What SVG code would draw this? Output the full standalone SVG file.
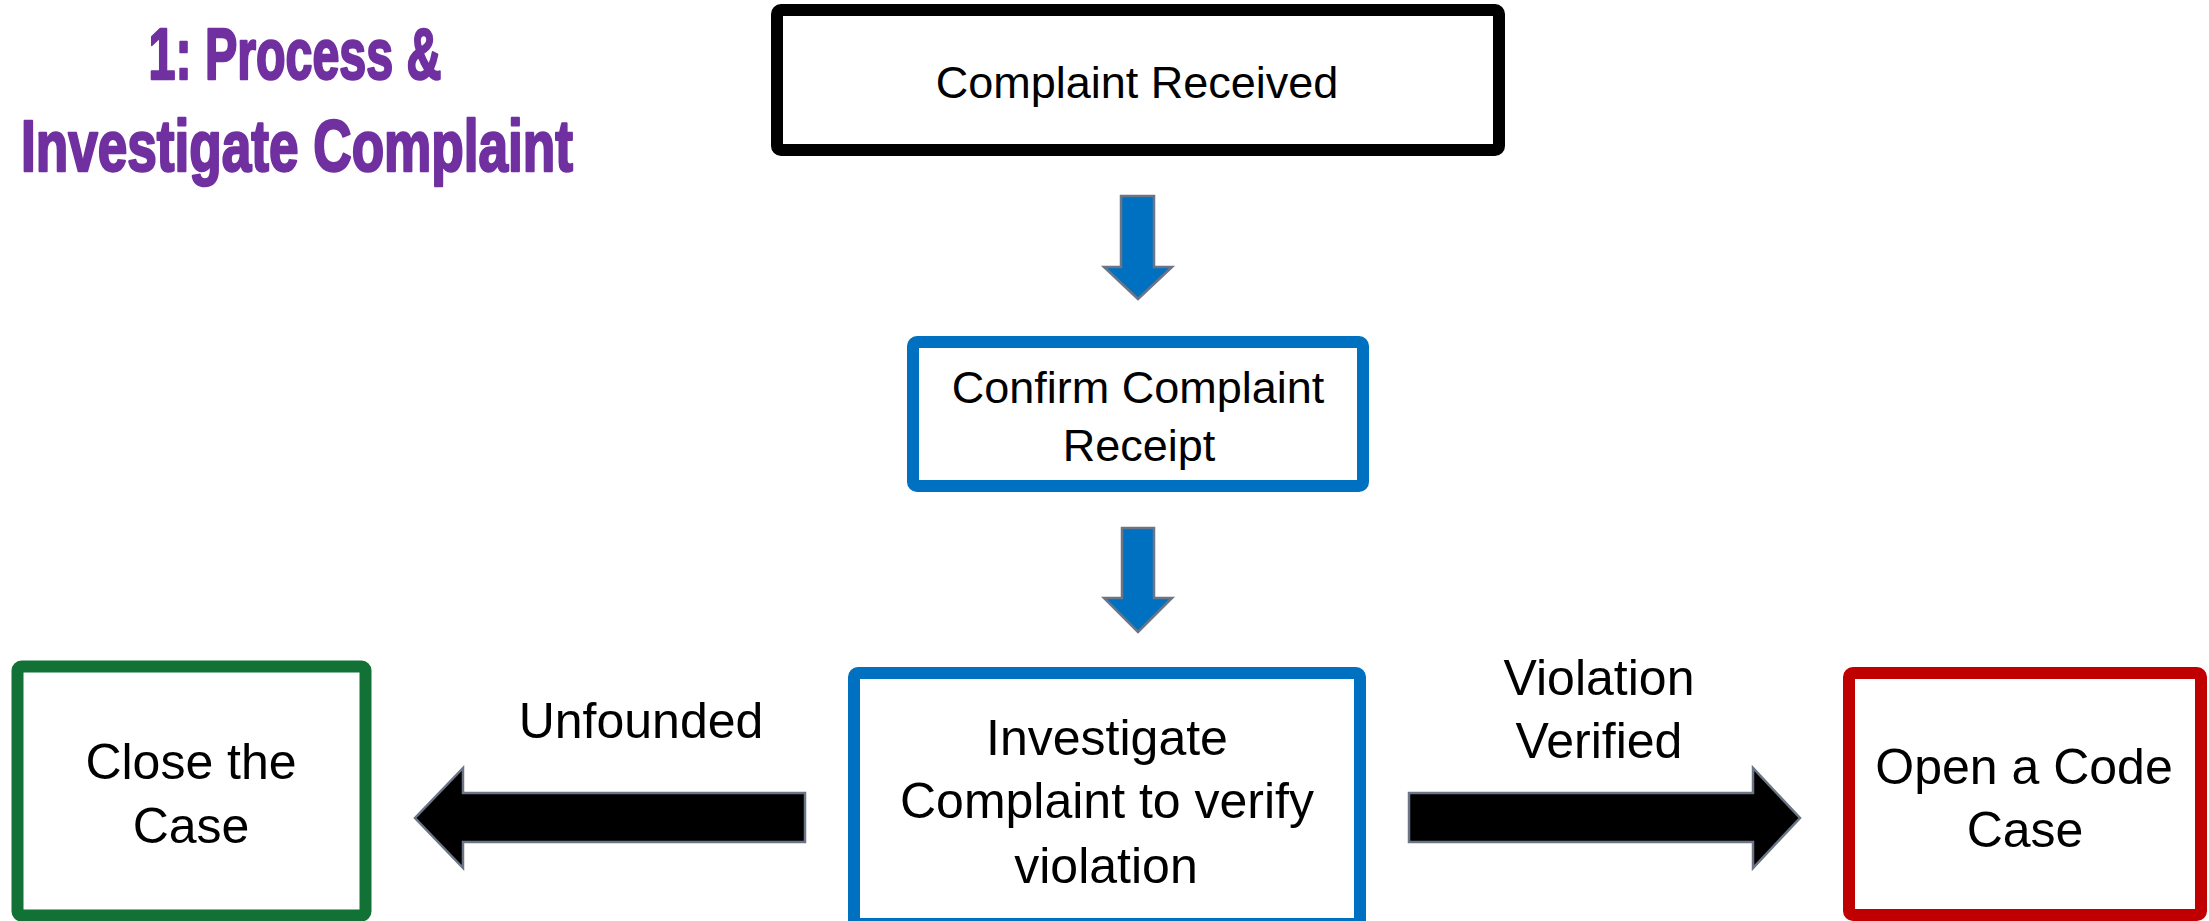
<svg xmlns="http://www.w3.org/2000/svg" width="2209" height="921" viewBox="0 0 2209 921">
<style>
.box{fill:#FFFFFF;stroke-width:12;stroke-linejoin:round}
.lbl{font-family:"Liberation Sans",Arial,sans-serif;fill:#000000;text-anchor:middle}
.title{font-family:"Liberation Sans Narrow","Liberation Sans",Impact,sans-serif;font-weight:bold;fill:#7030A0;stroke:#7030A0;stroke-width:2.5;stroke-linejoin:round;text-anchor:middle}
.blue{fill:#0070C0;stroke:#6B7585;stroke-width:2.5}
.black{fill:#000000;stroke:#6B7585;stroke-width:2.5}
</style>
<rect width="2209" height="921" fill="#FFFFFF"/>
<g id="title">
<text class="title" x="295" y="79" font-size="72" textLength="293" lengthAdjust="spacingAndGlyphs">1: Process &amp;</text>
<text class="title" x="297" y="171" font-size="72" textLength="552" lengthAdjust="spacingAndGlyphs">Investigate Complaint</text>
</g>
<g id="connectors">
<polygon class="blue" points="1121,196 1154,196 1154,267 1172,267 1138,299 1104,267 1121,267"/>
<polygon class="blue" points="1122,528 1154,528 1154,598 1172,598 1138,632 1104,598 1122,598"/>
<polygon class="black" points="805,793 805,842 463,842 463,868 415,818 463,768 463,793"/>
<polygon class="black" points="1409,793 1753,793 1753,768 1800,818 1753,868 1753,842 1409,842"/>
<text class="lbl" x="641" y="738" font-size="50">Unfounded</text>
<text class="lbl" x="1599" y="695" font-size="50">Violation</text>
<text class="lbl" x="1599" y="758" font-size="50">Verified</text>
</g>
<g id="complaint-received">
<rect class="box" x="777" y="10" width="722" height="140" rx="4" stroke="#000000"/>
<text class="lbl" x="1137" y="98" font-size="45">Complaint Received</text>
</g>
<g id="confirm-receipt">
<rect class="box" x="913" y="342" width="450" height="144" rx="4" stroke="#0070C0"/>
<text class="lbl" x="1138" y="403" font-size="45">Confirm Complaint</text>
<text class="lbl" x="1139" y="461" font-size="45">Receipt</text>
</g>
<g id="investigate">
<rect class="box" x="854" y="673" width="506" height="251" rx="4" stroke="#0070C0"/>
<text class="lbl" x="1107" y="755" font-size="50">Investigate</text>
<text class="lbl" x="1107" y="818" font-size="50">Complaint to verify</text>
<text class="lbl" x="1106" y="883" font-size="50">violation</text>
</g>
<g id="close-case">
<rect class="box" x="17.5" y="666.5" width="348" height="249" rx="4" stroke="#127236" stroke-width="11"/>
<text class="lbl" x="191" y="779" font-size="50">Close the</text>
<text class="lbl" x="191" y="843" font-size="50">Case</text>
</g>
<g id="open-case">
<rect class="box" x="1849" y="673" width="352" height="242" rx="4" stroke="#C00000"/>
<text class="lbl" x="2024" y="784" font-size="50">Open a Code</text>
<text class="lbl" x="2025" y="847" font-size="50">Case</text>
</g>
</svg>
